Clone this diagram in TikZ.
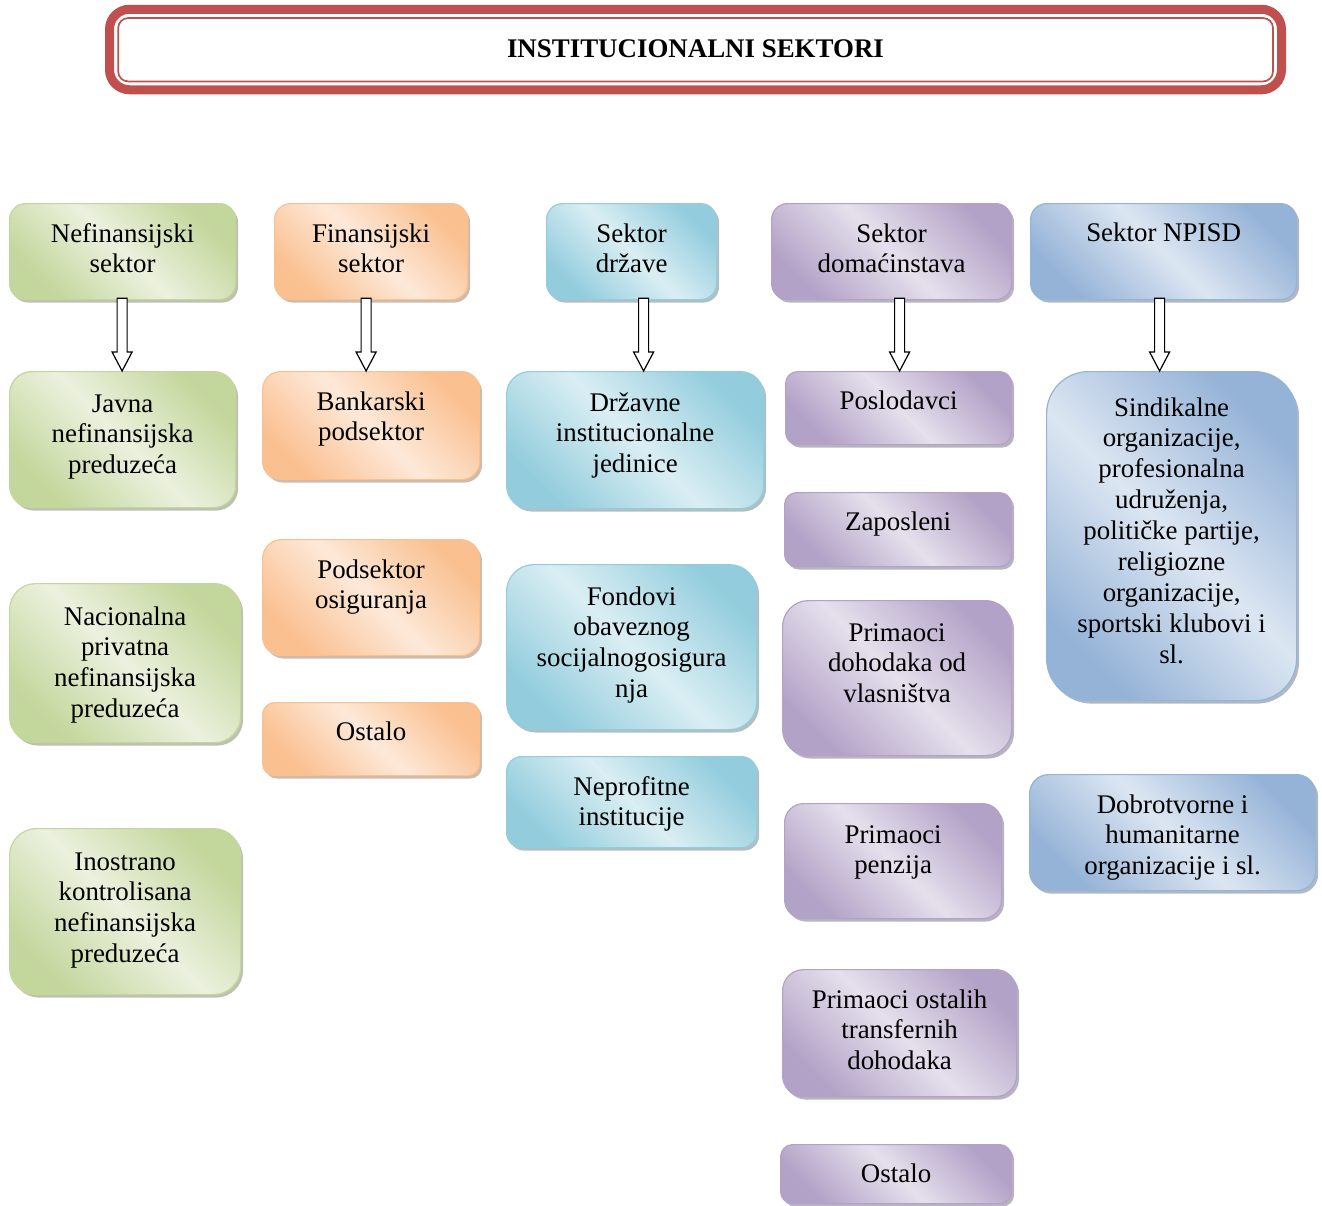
\documentclass[tikz,border=0pt]{standalone}
\usepackage{fontspec}
\setmainfont{Liberation Serif}
\usetikzlibrary{shadows, calc, positioning}

\definecolor{grnD}{HTML}{C3D69B}
\definecolor{grnL}{HTML}{EBF1DE}
\definecolor{orgD}{HTML}{FAC090}
\definecolor{orgL}{HTML}{FDE9D9}
\definecolor{aquD}{HTML}{93CDDD}
\definecolor{aquL}{HTML}{DAEEF3}
\definecolor{purD}{HTML}{B3A2C7}
\definecolor{purL}{HTML}{E5E0EC}
\definecolor{bluD}{HTML}{95B3D7}
\definecolor{bluL}{HTML}{DCE6F2}
\definecolor{ttlred}{HTML}{C0504D}

\begin{document}
\begin{tikzpicture}[x=1pt, y=-1pt, font=\fontsize{26.9}{30.9}\selectfont,
    box/.style={draw=#1D, line width=1.2pt, top color=#1D, bottom color=#1D, middle color=#1L,
        shading angle=-45, anchor=north west, inner sep=0pt,
        drop shadow={shadow xshift=2.5pt, shadow yshift=-3pt, fill=#1D!55!black, opacity=0.45}},
    lbl/.style={anchor=base, yshift=-39pt, align=flush center, text width=300pt, inner sep=0pt},
    hollow/.style={draw=black, fill=white, line width=1.2pt}]

        \useasboundingbox (0,0) rectangle (1322,1205);

        %% TITLE
        \node[draw=ttlred, line width=9, rounded corners=20, outer sep=0pt, minimum width=1172, minimum height=80.5,
            font=\bfseries\fontsize{26.9}{30.9}\selectfont] (title) at (695.5,49.5) {\raisebox{2pt}{INSTITUCIONALNI SEKTORI}};
        \draw[ttlred, line width=1.7, rounded corners=10]
            ($(title.north west)+(8.7,8.8)$) rectangle ($(title.south east)+(-8.5,-8.3)$);

        %% NODES
        % Nefinansijski sektor
        \node[box=grn, minimum width=226, minimum height=96, rounded corners=16,
            label={[lbl]north:Nefinansijski\\sektor}] (nef) at (9,203) {};
        \node[box=grn, minimum width=226, minimum height=136, rounded corners=22,
            label={[lbl, yshift=-2pt]north:Javna\\nefinansijska\\preduzeća}] (jav) at (9,371) {};
        \node[box=grn, minimum width=231, minimum height=159, rounded corners=26,
            label={[lbl, yshift=-3pt]north:Nacionalna\\privatna\\nefinansijska\\preduzeća}] (nac) at (9,583) {};
        \node[box=grn, minimum width=231, minimum height=166, rounded corners=27,
            label={[lbl, yshift=-3pt]north:Inostrano\\kontrolisana\\nefinansijska\\preduzeća}] (ino) at (9,828) {};

        % Finansijski sektor
        \node[box=org, minimum width=193, minimum height=96, rounded corners=16,
            label={[lbl]north:Finansijski\\sektor}] (fin) at (274,203) {};
        \node[box=org, minimum width=217, minimum height=108, rounded corners=18,
            label={[lbl]north:Bankarski\\podsektor}] (ban) at (262,371) {};
        \node[box=org, minimum width=217, minimum height=116, rounded corners=19,
            label={[lbl]north:Podsektor\\osiguranja}] (osi) at (262,539) {};
        \node[box=org, minimum width=217, minimum height=73, rounded corners=12,
            label={[lbl, yshift=1pt]north:Ostalo}] (ostf) at (262,702) {};

        % Sektor drzave
        \node[box=aqu, minimum width=170, minimum height=96, rounded corners=16,
            label={[lbl]north:Sektor\\države}] (drz) at (546,203) {};
        \node[box=aqu, minimum width=257, minimum height=137, rounded corners=23,
            label={[lbl, yshift=-1pt]north:Državne\\institucionalne\\jedinice}] (dri) at (506,371) {};
        \node[box=aqu, minimum width=250, minimum height=165, rounded corners=27,
            label={[lbl, yshift=-2pt]north:Fondovi\\obaveznog\\socijalnogosigura\\nja}] (fon) at (506,564) {};
        \node[box=aqu, minimum width=250, minimum height=91, rounded corners=15,
            label={[lbl]north:Neprofitne\\institucije}] (nep) at (506,756) {};

        % Sektor domacinstava
        \node[box=pur, minimum width=240, minimum height=96, rounded corners=16,
            label={[lbl]north:Sektor\\domaćinstava}] (dom) at (771,203) {};
        \node[box=pur, minimum width=226, minimum height=73, rounded corners=12,
            label={[lbl, yshift=1pt]north:Poslodavci}] (pos) at (785,371) {};
        \node[box=pur, minimum width=227, minimum height=74, rounded corners=12,
            label={[lbl, yshift=1pt]north:Zaposleni}] (zap) at (784,492) {};
        \node[box=pur, minimum width=229, minimum height=155, rounded corners=26,
            label={[lbl, yshift=-2pt]north:Primaoci\\dohodaka od\\vlasništva}] (vla) at (782,600) {};
        \node[box=pur, minimum width=217, minimum height=115, rounded corners=19,
            label={[lbl, yshift=-1pt]north:Primaoci\\penzija}] (pen) at (784,803) {};
        \node[box=pur, minimum width=234, minimum height=127, rounded corners=21,
            label={[lbl]north:Primaoci ostalih\\transfernih\\dohodaka}] (tra) at (782,969) {};
        \node[box=pur, minimum width=231, minimum height=59, rounded corners=12,
            label={[lbl, yshift=1pt]north:Ostalo}] (ostd) at (780,1144) {};

        % Sektor NPISD
        \node[box=blu, minimum width=266, minimum height=96, rounded corners=16,
            label={[lbl, yshift=1pt]north:Sektor NPISD}] (npi) at (1030,203) {};
        \node[box=blu, minimum width=250, minimum height=329, rounded corners=42,
            label={[lbl, yshift=-6pt]north:{Sindikalne\\organizacije,\\profesionalna\\udruženja,\\političke partije,\\religiozne\\organizacije,\\sportski klubovi i\\sl.}}] (sin) at (1046,371) {};
        \node[box=blu, minimum width=286, minimum height=116, rounded corners=19,
            label={[lbl]north:Dobrotvorne i\\humanitarne\\organizacije i sl.}] (dob) at (1029,774) {};

        %% ARROWS
        \foreach \a/\b/\dx in {nef/jav/-0.5, fin/ban/-5, drz/dri/12, dom/pos/8, npi/sin/-4}{
            \coordinate (s) at ($(\a.south)+(\dx,-2)$);
            \coordinate (t) at (s |- \b.north);
            \draw[hollow] ($(s)+(-5,0)$) -- ($(t)+(-5,-19)$) -- ($(t)+(-10,-19)$) -- (t)
                -- ($(t)+(10,-19)$) -- ($(t)+(5,-19)$) -- ($(s)+(5,0)$) -- cycle;
        }

    \end{tikzpicture}
\end{document}
